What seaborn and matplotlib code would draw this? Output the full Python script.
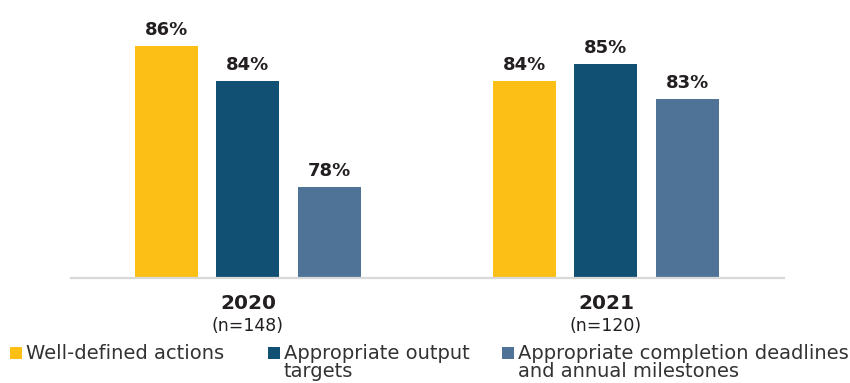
import matplotlib
matplotlib.use("Agg")
import matplotlib.pyplot as plt
import seaborn as sns
import pandas as pd
from matplotlib.patches import Rectangle

# Share of plans meeting each quality criterion, by year
years = ["2020", "2021"]
sample_sizes = ["(n=148)", "(n=120)"]
criteria = [
    "Well-defined actions",
    "Appropriate output targets",
    "Appropriate completion deadlines and annual milestones",
]
legend_lines = [
    ["Well-defined actions"],
    ["Appropriate output", "targets"],
    ["Appropriate completion deadlines", "and annual milestones"],
]
well_defined = [86, 84]
output_targets = [84, 85]
deadlines = [78, 83]
colors = ["#FBBF15", "#114F73", "#4E7396"]

df = pd.DataFrame({
    "year": years * 3,
    "criterion": [c for c in criteria for _ in years],
    "pct": well_defined + output_targets + deadlines,
})

sns.set_theme(style="white")
plt.rcParams["font.family"] = ["DejaVu Sans"]
text_color = "#231F20"

W, H = 850, 383
fig = plt.figure(figsize=(W / 100, H / 100), dpi=100)
ax = fig.add_axes([0.0835, 0.2742, 0.8388, 0.6736])

sns.barplot(data=df, x="year", y="pct", hue="criterion", order=years,
            hue_order=criteria, palette=colors, saturation=1,
            width=0.683, gap=0.227, legend=False, ax=ax, linewidth=0)

for cont in ax.containers:
    ax.bar_label(cont, fmt="{:.0f}%", padding=5, fontsize=13,
                 fontweight="bold", color=text_color)

ax.set_ylim(72.8, 87.5)
ax.set_xlim(-0.494, 1.497)
ax.set_xlabel("")
ax.set_ylabel("")
ax.set_yticks([])
for side in ["top", "left", "right"]:
    ax.spines[side].set_visible(False)
ax.spines["bottom"].set_color("#D9D9D9")
ax.spines["bottom"].set_linewidth(1.6)
ax.tick_params(axis="x", length=0, pad=0)
ax.set_xticks(range(len(years)))
ax.set_xticklabels([])

for i, (yr, n) in enumerate(zip(years, sample_sizes)):
    ax.annotate(yr, xy=(i, 0), xycoords=("data", "axes fraction"),
                xytext=(0, -26), textcoords="offset pixels",
                ha="center", va="center", fontsize=14.5, fontweight="bold",
                color=text_color)
    ax.annotate(n, xy=(i, 0), xycoords=("data", "axes fraction"),
                xytext=(0, -48), textcoords="offset pixels",
                ha="center", va="center", fontsize=12.5, color=text_color)

# legend along the bottom: swatch sits on the first line's baseline
legend_x = [10, 268, 502]
baseline = 359
line_step = 18
swatch = 12
for lines, col, x in zip(legend_lines, colors, legend_x):
    fig.add_artist(Rectangle((x / W, (H - baseline) / H), swatch / W, swatch / H,
                             transform=fig.transFigure, facecolor=col,
                             edgecolor="none"))
    for k, line in enumerate(lines):
        fig.text((x + swatch + 4) / W, (H - baseline - line_step * k) / H, line,
                 ha="left", va="baseline", fontsize=14, color="#333333")

fig.savefig("out.png", dpi=100)
